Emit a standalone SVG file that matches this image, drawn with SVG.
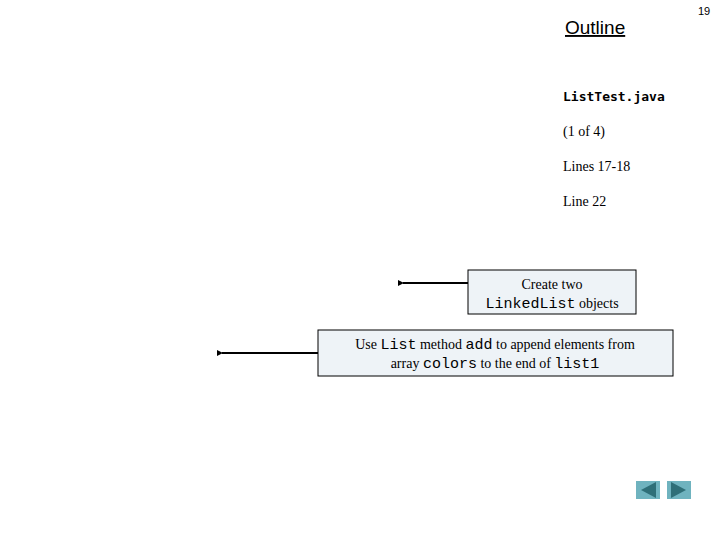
<svg xmlns="http://www.w3.org/2000/svg" width="720" height="540" viewBox="0 0 720 540">
<style>
.s{font-family:"Liberation Serif",serif;font-size:14px;fill:#000}
.m{font-family:"Liberation Mono",monospace;font-size:15px}
.box{fill:#eef3f7;stroke:#000;stroke-width:1}
.c{stroke:#000;stroke-width:2;fill:none}
.btn{fill:#6fb3bf}
.tri{fill:#2f6f78}
</style>
<defs><marker id="a" markerUnits="userSpaceOnUse" markerWidth="8" markerHeight="8" refX="1" refY="4" orient="auto"><path d="M6,1 L0,4 L6,7z" fill="#000"/></marker></defs>
<rect width="720" height="540" fill="#fff"/>
<text x="565" y="34" font-family="Liberation Sans,sans-serif" font-size="19" text-decoration="underline">Outline</text>
<text x="698" y="15" font-family="Liberation Sans,sans-serif" font-size="11">19</text>
<text x="563" y="101" font-family="DejaVu Sans Mono,monospace" font-size="13" font-weight="bold">ListTest.java</text>
<text class="s" x="563" y="136">(1 of 4)</text>
<text class="s" x="563" y="171">Lines 17-18</text>
<text class="s" x="563" y="206">Line 22</text>
<g id="connectors">
<line class="c" x1="468" y1="283" x2="403" y2="283" marker-end="url(#a)"/>
<line class="c" x1="318" y1="353" x2="222" y2="353" marker-end="url(#a)"/>
</g>
<g id="n1"><rect class="box" x="468" y="270" width="168" height="44"/>
<text class="s" x="552" y="289" text-anchor="middle">Create two</text>
<text class="s" x="552" y="308" text-anchor="middle"><tspan class="m">LinkedList</tspan> objects</text></g>
<g id="n2"><rect class="box" x="318" y="330" width="355" height="46"/>
<text class="s" x="495" y="349" text-anchor="middle">Use <tspan class="m">List</tspan> method <tspan class="m">add</tspan> to append elements from</text>
<text class="s" x="495" y="368" text-anchor="middle">array <tspan class="m">colors</tspan> to the end of <tspan class="m">list1</tspan></text></g>
<g id="nav">
<rect class="btn" x="636" y="481" width="24" height="18"/><path class="tri" d="M641,490 L656,482 L656,498z"/>
<rect class="btn" x="667" y="481" width="24" height="18"/><path class="tri" d="M686,490 L671,482 L671,498z"/>
</g>
</svg>
